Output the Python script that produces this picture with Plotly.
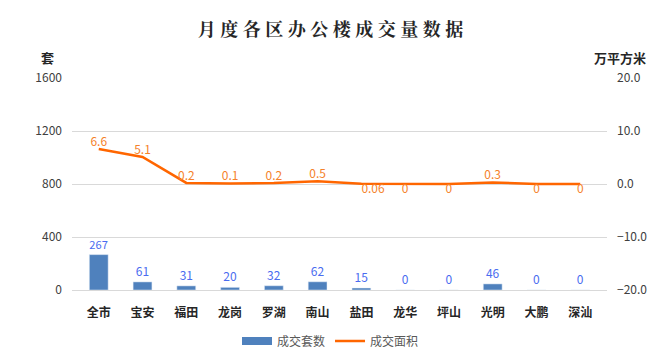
import plotly.graph_objects as go

categories = ["全市", "宝安", "福田", "龙岗", "罗湖", "南山", "盐田", "龙华", "坪山", "光明", "大鹏", "深汕"]
units = [267, 61, 31, 20, 32, 62, 15, 0, 0, 46, 0, 0]
area = [6.6, 5.1, 0.2, 0.1, 0.2, 0.5, 0.06, 0, 0, 0.3, 0, 0]
area_labels = ["6.6", "5.1", "0.2", "0.1", "0.2", "0.5", "0.06", "0", "0", "0.3", "0", "0"]
area_pos = ["top center", "top center", "top center", "top center", "top center", "top center",
            "bottom right", "bottom center", "bottom center", "top center", "bottom center", "bottom center"]
left_ticks = [0, 400, 800, 1200, 1600]
right_ticks = [-20, -10, 0, 10, 20]

font_cjk = "Microsoft YaHei, Noto Sans CJK SC, sans-serif"
BLUE = "#4f81bd"
ORANGE = "#ff6600"

fig = go.Figure()
fig.add_trace(go.Bar(
    x=categories, y=units, name="成交套数",
    marker=dict(color=BLUE),
    text=[str(v) for v in units], textposition="outside",
    textfont=dict(color="#4a6cf0", size=12, family=font_cjk),
    cliponaxis=False, showlegend=False, legendgroup="u",
))
# legend-only entry to mimic a wide rectangle swatch
fig.add_trace(go.Scatter(
    x=[None], y=[None], name="成交套数", mode="lines",
    line=dict(color=BLUE, width=8), legendgroup="u", hoverinfo="skip",
))
fig.add_trace(go.Scatter(
    x=categories, y=area, name="成交面积", yaxis="y2",
    mode="lines+text",
    line=dict(color=ORANGE, width=2.5),
    text=area_labels, textposition=area_pos,
    textfont=dict(color="#f5822a", size=12, family=font_cjk),
    cliponaxis=False,
))

title_text = "\u2005".join(list("月度各区办公楼成交量数据"))

fig.update_layout(
    width=661, height=354,
    margin=dict(l=72, r=54, t=78, b=64, autoexpand=False),
    paper_bgcolor="white", plot_bgcolor="white",
    title=dict(text="<b>" + title_text + "</b>", x=0.5, xanchor="center", y=0.915, yanchor="middle",
               font=dict(size=18, color="#262626", family="Noto Serif CJK SC, Noto Sans CJK SC, serif")),
    bargap=0.57,
    showlegend=True,
    legend=dict(orientation="h", x=0.5, xanchor="center", xref="container",
                y=1 - 341 / 354, yanchor="middle", yref="container",
                font=dict(size=12, color="#595959", family=font_cjk), itemwidth=30),
    xaxis=dict(showgrid=False, showline=True, linecolor="#d9d9d9", ticks="",
               ticklabelstandoff=12,
               tickfont=dict(size=12, color="#262626", family=font_cjk),
               tickprefix="<b>", ticksuffix="</b>"),
    yaxis=dict(range=[0, 1600], tickvals=left_ticks, showgrid=True, gridcolor="#d9d9d9",
               zeroline=False, ticks="", ticklabelstandoff=9,
               tickfont=dict(size=12, color="#404040", family=font_cjk)),
    yaxis2=dict(range=[-20, 20], tickvals=right_ticks, tickformat=".1f", overlaying="y", side="right",
                showgrid=False, zeroline=False, ticks="", ticklabelstandoff=9,
                tickfont=dict(size=12, color="#404040", family=font_cjk)),
    annotations=[
        dict(text="<b>套</b>", xref="paper", yref="paper", x=-0.045, y=1.099, showarrow=False,
             xanchor="center", yanchor="middle", font=dict(size=13, color="#262626", family=font_cjk)),
        dict(text="<b>万平方米</b>", xref="paper", yref="paper", x=1.024, y=1.099, showarrow=False,
             xanchor="center", yanchor="middle", font=dict(size=13, color="#262626", family=font_cjk)),
    ],
)
fig.write_html("out.html")
